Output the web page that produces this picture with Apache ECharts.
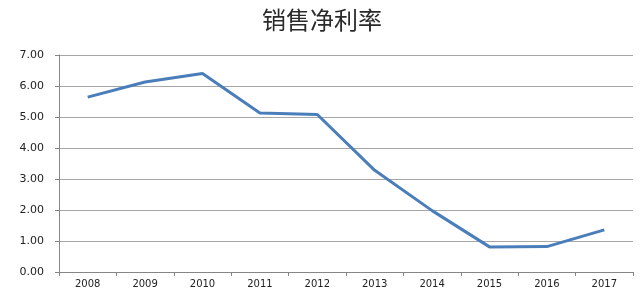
<!DOCTYPE html>
<html>
<head>
<meta charset="utf-8">
<script src="https://cdn.jsdelivr.net/npm/echarts@6/dist/echarts.min.js"></script>
<style>html,body{margin:0;padding:0;background:#fff;}#c{width:644px;height:301px;}</style>
</head>
<body>
<div id="c"></div>
<script>
var titleText = '销售净利率';
var years = ['2008','2009','2010','2011','2012','2013','2014','2015','2016','2017'];
var netMargin = [5.64, 6.13, 6.40, 5.13, 5.08, 3.28, 1.98, 0.81, 0.82, 1.36];

var chart = echarts.init(document.getElementById('c'), null, {renderer: 'canvas'});
chart.setOption({
  animation: false,
  backgroundColor: '#ffffff',
  title: {
    text: titleText,
    left: 'center',
    top: 3,
    textStyle: {fontFamily: 'Noto Sans CJK SC', fontSize: 24, fontWeight: 'normal', color: '#2a2a2a'}
  },
  grid: {left: 59, right: 11, top: 55, bottom: 29, containLabel: false},
  xAxis: {
    type: 'category',
    data: years,
    boundaryGap: true,
    axisLine: {lineStyle: {color: '#868686', width: 1}},
    axisTick: {show: true, length: 4, inside: false, alignWithLabel: false, lineStyle: {color: '#868686'}},
    axisLabel: {margin: 7, fontFamily: 'DejaVu Sans', fontSize: 10, color: '#222222'},
    splitLine: {show: false}
  },
  yAxis: {
    type: 'value',
    min: 0, max: 7, interval: 1,
    axisLine: {show: true, lineStyle: {color: '#868686', width: 1}},
    axisTick: {show: true, length: 4, lineStyle: {color: '#868686'}},
    axisLabel: {margin: 15, fontFamily: 'DejaVu Sans', fontSize: 11, color: '#222222',
      formatter: function (v) { return v.toFixed(2); }},
    splitLine: {show: true, lineStyle: {color: '#a6a6a6', width: 1}}
  },
  series: [{
    type: 'line',
    data: netMargin,
    symbol: 'none',
    lineStyle: {color: '#4a7ebb', width: 3},
    itemStyle: {color: '#4a7ebb'}
  }]
});
</script>
</body>
</html>
